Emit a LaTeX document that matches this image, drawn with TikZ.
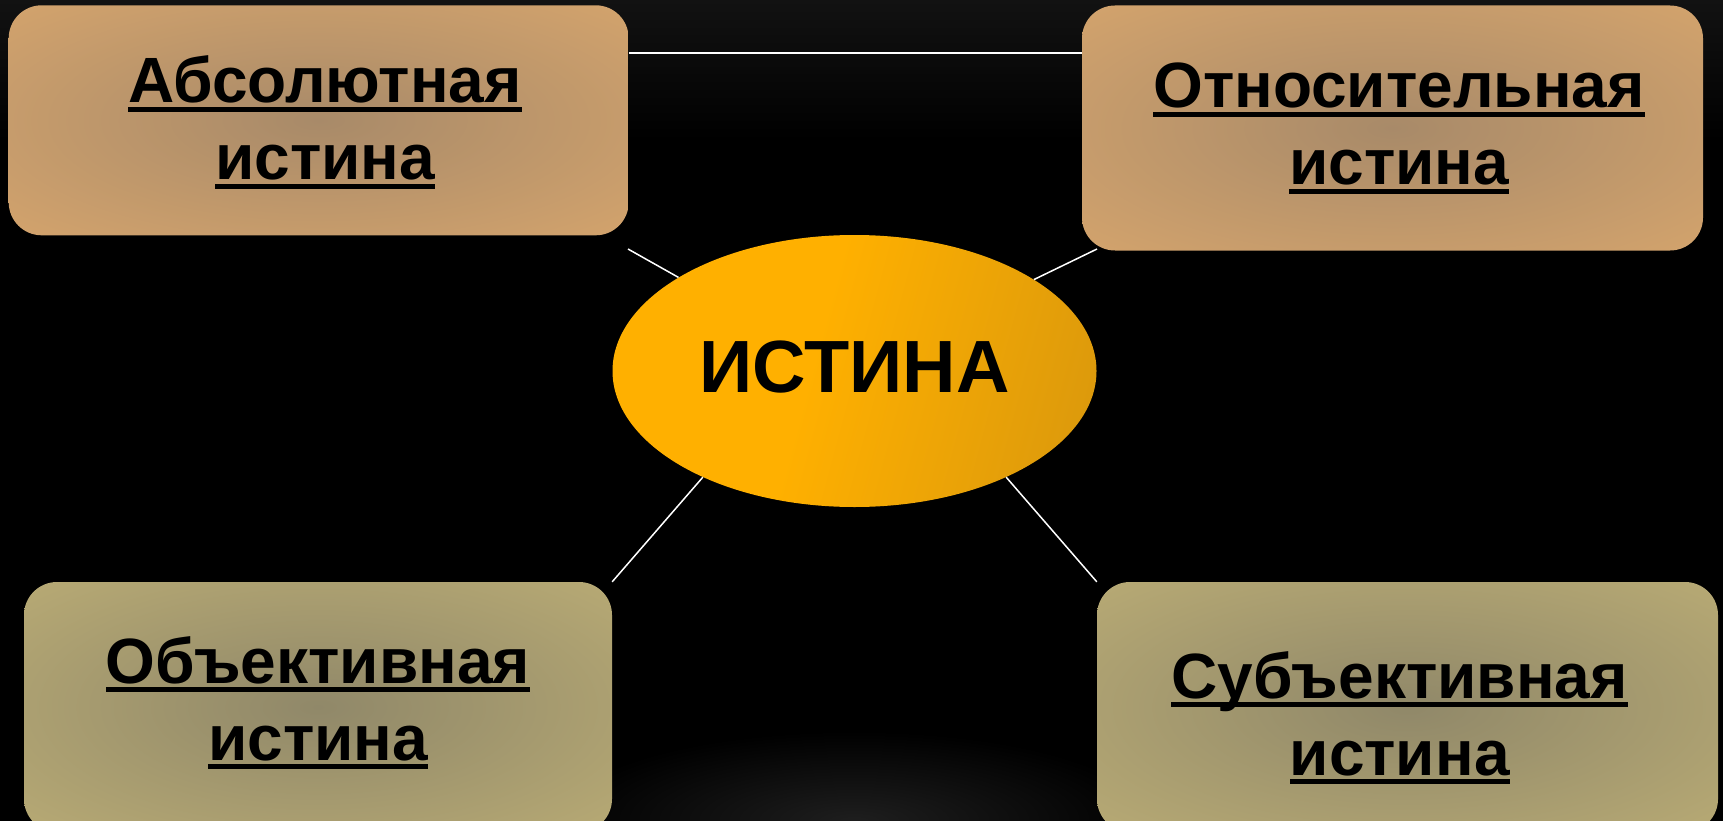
\documentclass[tikz,border=0pt]{standalone}
\usepackage{fontspec}
\setmainfont{Liberation Sans}
\usetikzlibrary{shapes.geometric,calc}
\definecolor{tlout}{HTML}{D6A56D}
\definecolor{tlin}{HTML}{A88A69}
\definecolor{blout}{HTML}{BAAC75}
\definecolor{blin}{HTML}{908869}
\definecolor{goldA}{HTML}{FFB000}
\definecolor{goldB}{HTML}{C48A14}
\definecolor{bgtop}{HTML}{121212}
\definecolor{glow}{HTML}{1E1E1E}
\pgfdeclareradialshading{topshade}{\pgfpoint{0bp}{0bp}}{color(0bp)=(tlin); color(38bp)=(tlout); color(50bp)=(tlout)}
\pgfdeclareradialshading{botshade}{\pgfpoint{0bp}{0bp}}{color(0bp)=(blin); color(38bp)=(blout); color(50bp)=(blout)}
\pgfdeclarehorizontalshading{ellshade}{100bp}{color(0bp)=(goldA); color(45bp)=(goldA); color(100bp)=(goldB)}
\newcommand\myul[1]{\setbox0\hbox{#1}\rlap{\rule[-0.14em]{\wd0}{0.085em}}\box0}
\newcommand\twol[2]{\vtop{\halign{\hfil##\hfil\cr\myul{#1}\cr\myul{#2}\cr}}}
\tikzset{
  boxtop/.style={shape=rectangle, rounded corners=33pt, shade, shading=topshade, inner sep=0pt},
  boxbot/.style={shape=rectangle, rounded corners=33pt, shade, shading=botshade, inner sep=0pt},
  lbl/.style={anchor=base, inner sep=0pt, text=black, font=\fontsize{64}{77}\selectfont\bfseries},
  conn/.style={draw=white, line width=1.5pt},
}
\begin{document}
\begin{tikzpicture}[x=1pt,y=-1pt]
\useasboundingbox (0,0) rectangle (1723,821);
\clip (0,0) rectangle (1723,821);
\fill[black] (0,0) rectangle (1723,821);
\shade[top color=bgtop, bottom color=black] (0,0) rectangle (1723,140);
\shade[inner color=glow, outer color=black] (854,821) ellipse (300 and 90);
% boxes
\node[boxtop, minimum width=620pt, minimum height=230pt] (tl) at (318.7,120.3) {};
\node[boxtop, minimum width=621pt, minimum height=245pt] (tr) at (1392.5,128) {};
\node[boxbot, minimum width=588pt, minimum height=250pt] (bl) at (318,707) {};
\node[boxbot, minimum width=621pt, minimum height=250pt] (br) at (1407.5,707) {};
\node[ellipse, shade, shading=ellshade, shading angle=-15, minimum width=484pt, minimum height=272pt, inner sep=0pt] (ell) at (854.5,371) {};
% labels
\node[lbl] (tlt) at (325,103) {\twol{Абсолютная}{истина}};
\node[lbl] (trt) at (1399,108) {\twol{Относительная}{истина}};
\node[lbl] (blt) at (318,683) {\twol{Объективная}{истина}};
\node[lbl] (brt) at (1399.6,698) {\twol{Субъективная}{истина}};
\node[anchor=base, inner sep=0pt, font=\fontsize{74}{88}\selectfont\bfseries] (et) at (854.5,392) {ИСТИНА};
% connectors
\coordinate (h) at (0,53);
\coordinate (p1) at (628,249);
\coordinate (p2) at (1097,249);
\draw[conn] (tl.east |- h) -- (tr.west |- h);
\draw[conn] (p1) -- (ell.152);
\draw[conn] (ell.27) -- (p2);
\draw[conn] (ell.215) -- (bl.north east);
\draw[conn] (ell.325) -- (br.north west);
\end{tikzpicture}
\end{document}
